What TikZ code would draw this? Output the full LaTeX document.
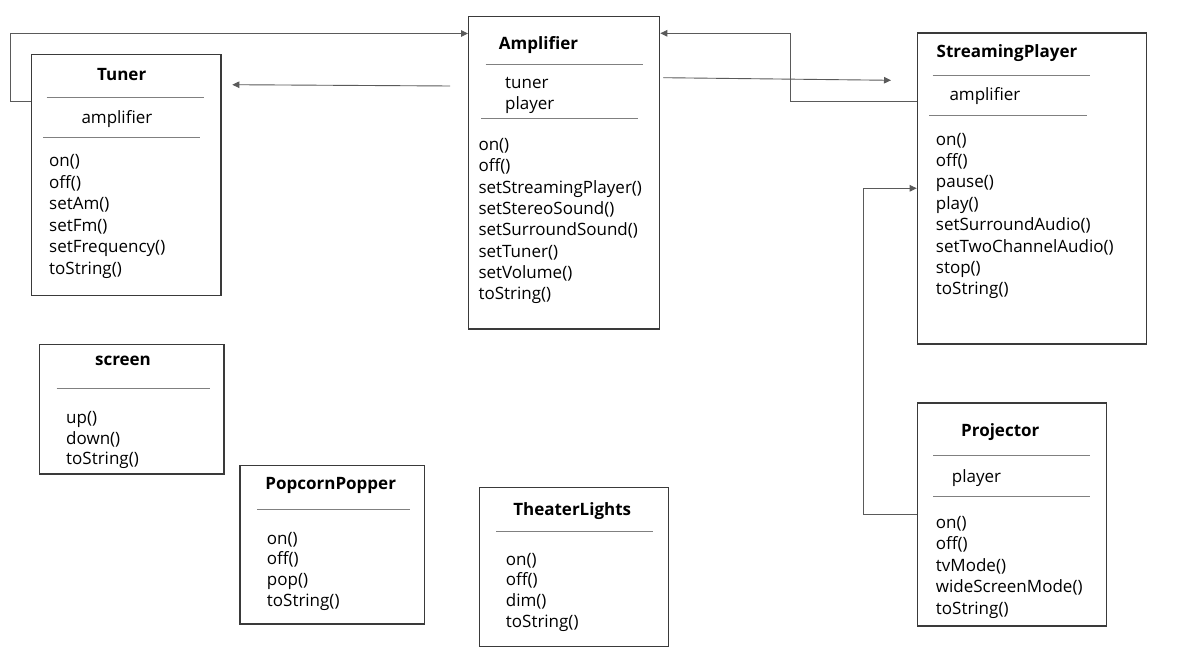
\documentclass[tikz,border=0pt]{standalone}
\usepackage{fontspec}
\setmainfont{Open Sans}
\usetikzlibrary{arrows.meta}
\definecolor{boxc}{HTML}{3A3A3A}
\definecolor{sepc}{HTML}{808080}
\definecolor{conc}{HTML}{5A5A5A}
\begin{document}
\begin{tikzpicture}[x=1pt,y=-1pt,
  box/.style={draw=boxc, line width=1.3pt, inner sep=0pt, anchor=north west, fill=white},
  sep/.style={draw=sepc, line width=0.9pt},
  conn/.style={draw=conc, line width=0.9pt},
  arr/.style={conn,-{Triangle[length=7pt,width=6.5pt]}},
  ttl/.style={font=\fontsize{17}{20}\selectfont\bfseries, anchor=base, inner sep=0pt},
  txt/.style={font=\fontsize{17}{20}\selectfont, anchor=base west, inner sep=0pt}]
\path[fill=white] (0,0) rectangle (1187,663);
\useasboundingbox (0,0) rectangle (1187,663);

% boxes
\node[box, minimum width=189.3pt, minimum height=241pt] (tuner) at (31,53.7) {};
\node[box, minimum width=191pt, minimum height=312.6pt] (amp) at (468,15.7) {};
\node[box, minimum width=229.3pt, minimum height=311pt] (sp) at (916.7,32.3) {};
\node[box, minimum width=189.3pt, minimum height=223pt] (proj) at (916.7,402.3) {};
\node[box, minimum width=184.3pt, minimum height=129.3pt] (scr) at (39,344) {};
\node[box, minimum width=184.7pt, minimum height=158.6pt] (pop) at (239.3,464.7) {};
\node[box, minimum width=188.7pt, minimum height=159.3pt] (tl) at (479,486.7) {};

% Tuner
\node[ttl] (tunerT) at (121.7,81) {Tuner};
\draw[sep] (46.7,97.3) -- (204,97.3);
\node[txt] (tunerA) at (81.3,123.5) {amplifier};
\draw[sep] (43,137.3) -- (200,137.3);
\foreach \t [count=\i] in {on(),off(),setAm(),setFm(),setFrequency(),toString()}
  \node[txt] (tunerM\i) at (49,{166.7+21.5*(\i-1)}) {\t};

% Amplifier
\node[ttl] (ampT) at (538.5,50) {Amplifier};
\draw[sep] (485.7,64.3) -- (642.7,64.3);
\node[txt] (ampA1) at (505,88.3) {tuner};
\node[txt] (ampA2) at (505,110) {player};
\draw[sep] (481,118.7) -- (638.3,118.7);
\foreach \t [count=\i] in {on(),off(),setStreamingPlayer(),setStereoSound(),setSurroundSound(),setTuner(),setVolume(),toString()}
  \node[txt] (ampM\i) at (478.3,{150.5+21.35*(\i-1)}) {\t};

% StreamingPlayer
\node[ttl] (spT) at (1007,57.3) {StreamingPlayer};
\draw[sep] (932.7,75.7) -- (1090,75.7);
\node[txt] (spA) at (949.3,101) {amplifier};
\draw[sep] (929.3,115) -- (1086.7,115);
\foreach \t [count=\i] in {on(),off(),pause(),play(),setSurroundAudio(),setTwoChannelAudio(),stop(),toString()}
  \node[txt] (spM\i) at (935.7,{145.3+21.35*(\i-1)}) {\t};

% Projector
\node[ttl] (projT) at (1000.3,436) {Projector};
\draw[sep] (933.3,455.7) -- (1090.3,455.7);
\node[txt] (projA) at (951.7,482.7) {player};
\draw[sep] (933.3,496.7) -- (1090.3,496.7);
\foreach \t [count=\i] in {on(),off(),tvMode(),wideScreenMode(),toString()}
  \node[txt] (projM\i) at (935.7,{528.3+21.5*(\i-1)}) {\t};

% screen
\node[ttl] (scrT) at (123,366) {screen};
\draw[sep] (56.7,388.7) -- (210,388.7);
\foreach \t [count=\i] in {up(),down(),toString()}
  \node[txt] (scrM\i) at (66,{423.3+20.8*(\i-1)}) {\t};

% PopcornPopper
\node[ttl] (popT) at (330.7,489.3) {PopcornPopper};
\draw[sep] (257.3,509.3) -- (410,509.3);
\foreach \t [count=\i] in {on(),off(),pop(),toString()}
  \node[txt] (popM\i) at (266.7,{544.3+20.6*(\i-1)}) {\t};

% TheaterLights
\node[ttl] (tlT) at (572.2,515) {TheaterLights};
\draw[sep] (496,531.7) -- (653.3,531.7);
\foreach \t [count=\i] in {on(),off(),dim(),toString()}
  \node[txt] (tlM\i) at (505.7,{565+20.9*(\i-1)}) {\t};

% connectors
\coordinate (c1) at (10,101.3);
\coordinate (c2) at (10,33.5);
\draw[arr] (tuner.west |- c1) -- (c1) -- (c2) -- (amp.west |- c2);

\coordinate (a1s) at (450,86);
\coordinate (a1e) at (232.3,84.7);
\draw[arr] (a1s) -- (a1e);

\coordinate (a2s) at (663.3,77.7);
\coordinate (a2e) at (891,80.3);
\draw[arr] (a2s) -- (a2e);

\coordinate (c3) at (790.7,101);
\coordinate (c4) at (790.7,33.3);
\draw[arr] (sp.west |- c3) -- (c3) -- (c4) -- (amp.east |- c4);

\coordinate (c5) at (863.3,514);
\coordinate (c6) at (863.3,188.3);
\draw[arr] (proj.west |- c5) -- (c5) -- (c6) -- (sp.west |- c6);
\end{tikzpicture}
\end{document}
